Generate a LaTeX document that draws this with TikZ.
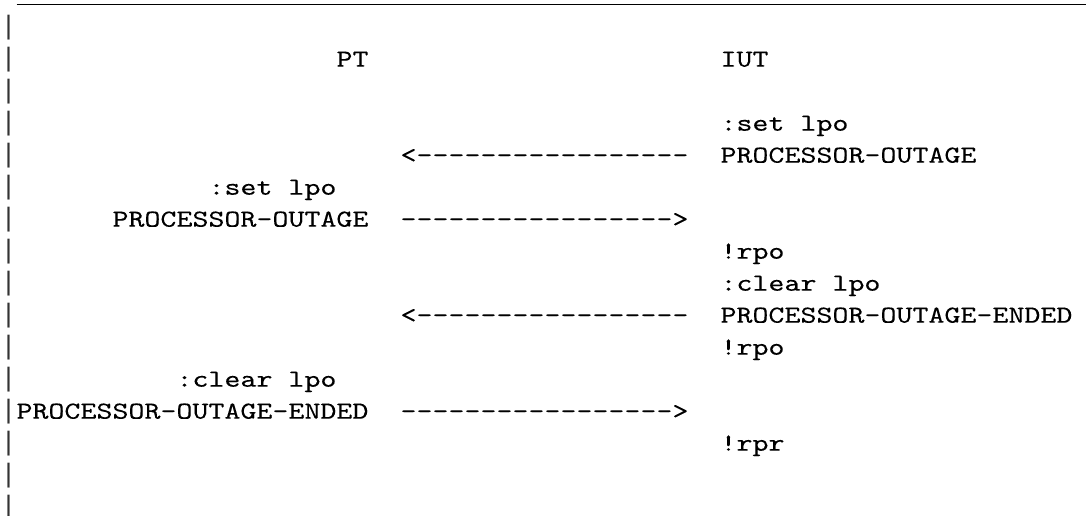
\documentclass[tikz,border=0pt]{standalone}
\usepackage{fontspec}
\newfontfamily\lmt{lmmono10-regular.otf}[FakeStretch=1.242, FakeBold=0.12]
\newfontfamily\barf{Liberation Mono}
\newcommand\hy{-\kern0pt}
\newcommand\larr{<\hy\hy\hy\hy\hy\hy\hy\hy\hy\hy\hy\hy\hy\hy\hy\hy\hy}
\newcommand\rarr{\hy\hy\hy\hy\hy\hy\hy\hy\hy\hy\hy\hy\hy\hy\hy\hy\hy>}
\begin{document}
\begin{tikzpicture}[x=0.75pt,y=-0.75pt,
  txt/.style={anchor=base west, inner sep=0pt, outer sep=0pt, text=black,
    font=\lmt\fontsize{18.4pt}{22pt}\selectfont},
  bar/.style={anchor=base west, inner sep=0pt, outer sep=0pt, text=black!80,
    font=\barf\fontsize{20pt}{24pt}\selectfont},
  rule/.style={line width=1pt, draw=black}]
\useasboundingbox (0,0) rectangle (1086,516);
\def\cw{16}
\def\ox{0.5}
\def\oy{2.7}
\def\lh{32}
% top rule
\coordinate (ruleL) at (16.5,4.3);
\coordinate (ruleR) at (1086,4.3);
\draw[rule] (ruleL) -- (ruleR);
% left bars
\foreach \k in {1,...,16} {
  \node[bar] (bar\k) at ({\ox}, {\oy+\lh*\k}) {|};
}
% headings
\node[txt] (pt)  at ({\ox+\cw*21}, {\oy+\lh*2}) {PT};
\node[txt] (iut) at ({\ox+\cw*45}, {\oy+\lh*2}) {IUT};
% line 4-5
\node[txt] (r4)  at ({\ox+\cw*45}, {\oy+\lh*4}) {:set lpo};
\node[txt] (a5)  at ({\ox+\cw*25}, {\oy+\lh*5}) {\larr};
\node[txt] (r5)  at ({\ox+\cw*45}, {\oy+\lh*5}) {PROCESSOR\hy OUTAGE};
% line 6-7
\node[txt] (l6)  at ({\ox+\cw*13}, {\oy+\lh*6}) {:set lpo};
\node[txt] (l7)  at ({\ox+\cw*7},  {\oy+\lh*7}) {PROCESSOR\hy OUTAGE};
\node[txt] (a7)  at ({\ox+\cw*25}, {\oy+\lh*7}) {\rarr};
% line 8-11
\node[txt] (r8)  at ({\ox+\cw*45}, {\oy+\lh*8}) {!rpo};
\node[txt] (r9)  at ({\ox+\cw*45}, {\oy+\lh*9}) {:clear lpo};
\node[txt] (a10) at ({\ox+\cw*25}, {\oy+\lh*10}) {\larr};
\node[txt] (r10) at ({\ox+\cw*45}, {\oy+\lh*10}) {PROCESSOR\hy OUTAGE\hy ENDED};
\node[txt] (r11) at ({\ox+\cw*45}, {\oy+\lh*11}) {!rpo};
% line 12-13
\node[txt] (l12) at ({\ox+\cw*11}, {\oy+\lh*12}) {:clear lpo};
\node[txt] (l13) at ({\ox+\cw*1},  {\oy+\lh*13}) {PROCESSOR\hy OUTAGE\hy ENDED};
\node[txt] (a13) at ({\ox+\cw*25}, {\oy+\lh*13}) {\rarr};
% line 14
\node[txt] (r14) at ({\ox+\cw*45}, {\oy+\lh*14}) {!rpr};
\end{tikzpicture}
\end{document}
